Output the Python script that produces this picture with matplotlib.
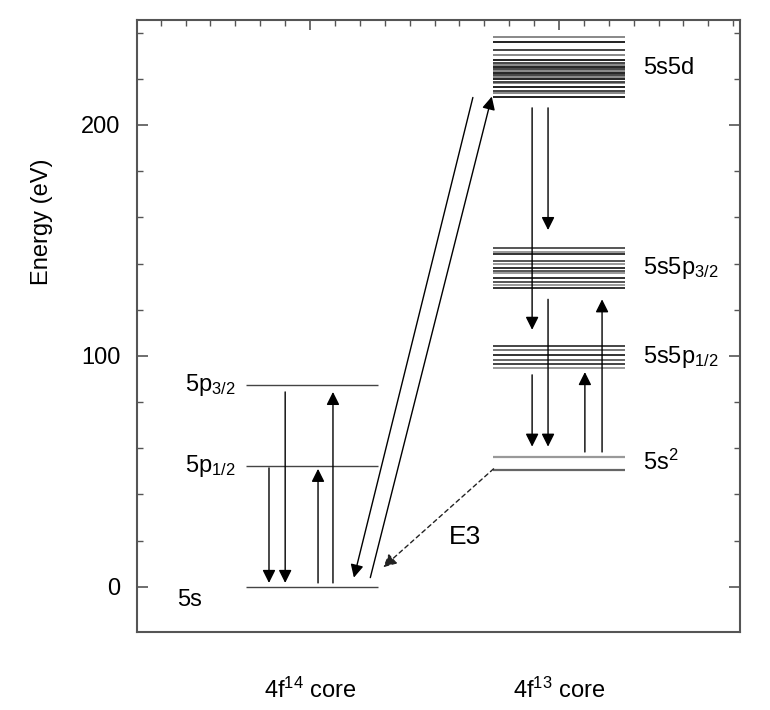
import matplotlib
matplotlib.use('Agg')
import matplotlib.pyplot as plt
from matplotlib.ticker import MultipleLocator

plt.rcParams['font.family'] = ['Liberation Sans', 'DejaVu Sans']
plt.rcParams['mathtext.fontset'] = 'custom'
plt.rcParams['mathtext.rm'] = 'Liberation Sans'
plt.rcParams['mathtext.it'] = 'Liberation Sans'

# level energies (eV)
lev_4f14 = [0.0, 52.5, 87.5]
lev_4f14_names = ['5s', '5p$_{1/2}$', '5p$_{3/2}$']

lev_5s2 = [50.4, 56.2]
lev_5s5p12 = [94.7, 96.5, 98.3, 100.4, 102.6, 104.5]
lev_5s5p32 = [129.6, 130.7, 131.9, 133.9, 135.8, 136.8, 138.0, 139.7,
              141.2, 144.1, 145.2, 146.6]
lev_5s5d = [212.0, 213.7, 214.8, 216.3, 218.0, 218.8, 219.7, 220.6, 221.6,
            222.5, 223.4, 224.3, 225.2, 226.0, 227.0, 228.0, 230.3, 232.3,
            235.8, 238.1]
group_names = ['5s$^2$', '5s5p$_{1/2}$', '5s5p$_{3/2}$', '5s5d']
group_label_y = [54.1, 99.6, 138.0, 224.7]

# transitions: (x, E_start, E_end)
trans_left = [(-0.165, 51.5, 1.7), (-0.100, 84.4, 1.7),
              (0.032, 1.7, 51.1), (0.092, 1.7, 84.4)]
trans_right = [(0.892, 207.4, 111.3), (0.956, 207.4, 154.5),
               (0.892, 91.8, 60.7), (0.956, 124.5, 60.7),
               (1.104, 58.4, 93.0), (1.173, 58.4, 124.5)]
# excitation / decay between cores: (x0, E0, x1, E1)
cross = [(0.654, 211.9, 0.176, 4.0), (0.242, 4.0, 0.730, 212.3)]
e3 = (0.737, 51.1, 0.294, 8.5)

fs = 17

fig = plt.figure(figsize=(7.7, 7.1), dpi=100)
ax = fig.add_axes([0.178, 0.110, 0.783, 0.862])
ax.set_xlim(-0.695, 1.727)
ax.set_ylim(-19.5, 245.5)

hw = 0.265
for e in lev_4f14:
    ax.hlines(e, 0.008 - hw, 0.008 + hw, color='#444444', lw=1.0)

shades_5s2 = ['#666666', '#999999']
for e, c in zip(lev_5s2, shades_5s2):
    ax.hlines(e, 1 - hw, 1 + hw, color=c, lw=1.6)
shades_p12 = ['#999999', '#444444', '#666666', '#333333', '#777777', '#444444']
for e, c in zip(lev_5s5p12, shades_p12):
    ax.hlines(e, 1 - hw, 1 + hw, color=c, lw=1.4)
for i, e in enumerate(lev_5s5p32):
    ax.hlines(e, 1 - hw, 1 + hw, color=['#333333', '#999999', '#555555'][i % 3], lw=1.4)
for i, e in enumerate(lev_5s5d):
    ax.hlines(e, 1 - hw, 1 + hw, color=['#222222', '#888888', '#444444'][i % 3], lw=1.4)

arr = dict(arrowstyle='-|>,head_length=0.6,head_width=0.3', color='black',
           lw=1.0, mutation_scale=13, shrinkA=0, shrinkB=0)
for x, e0, e1 in trans_left + trans_right:
    ax.annotate('', xy=(x, e1), xytext=(x, e0), arrowprops=arr)
for x0, e0, x1, e1 in cross:
    ax.annotate('', xy=(x1, e1), xytext=(x0, e0), arrowprops=arr)
ax.annotate('', xy=(e3[2], e3[3]), xytext=(e3[0], e3[1]),
            arrowprops=dict(arr, linestyle=(0, (3, 2.5)), color='#222222'))
ax.text(0.622, 21.6, 'E3', fontsize=19, ha='center', va='center')

# level labels
ax.text(-0.534, -5.6, lev_4f14_names[0], fontsize=fs, ha='left', va='center')
for e, name in zip(lev_4f14[1:], lev_4f14_names[1:]):
    ax.text(-0.30, e, name, fontsize=fs, ha='right', va='center')
for e, name in zip(group_label_y, group_names):
    ax.text(1.337, e, name, fontsize=fs, ha='left', va='center')

ax.text(0.0, -0.095, '4f$^{14}$ core', transform=ax.get_xaxis_transform(),
        fontsize=fs, ha='center', va='center')
ax.text(1.0, -0.095, '4f$^{13}$ core', transform=ax.get_xaxis_transform(),
        fontsize=fs, ha='center', va='center')
ax.text(-0.158, 158, 'Energy (eV)', fontsize=fs, rotation=90,
        ha='center', va='center', transform=ax.get_yaxis_transform())

# axes frame and ticks
for s in ax.spines.values():
    s.set_color('#555555')
    s.set_linewidth(1.5)
ax.yaxis.set_major_locator(MultipleLocator(100))
ax.yaxis.set_minor_locator(MultipleLocator(20))
ax.xaxis.set_major_locator(MultipleLocator(1))
ax.xaxis.set_minor_locator(MultipleLocator(0.1))
ax.tick_params(axis='y', which='both', direction='in', left=True, right=True,
               color='#555555', labelsize=fs, pad=12)
ax.tick_params(axis='y', which='major', length=8, width=1.2)
ax.tick_params(axis='y', which='minor', length=4, width=1.0)
ax.tick_params(axis='x', which='both', direction='in', top=True, bottom=False,
               labelbottom=False, color='#555555')
ax.tick_params(axis='x', which='major', length=7, width=1.2)
ax.tick_params(axis='x', which='minor', length=4, width=1.0)

fig.savefig('out.png', dpi=100)
